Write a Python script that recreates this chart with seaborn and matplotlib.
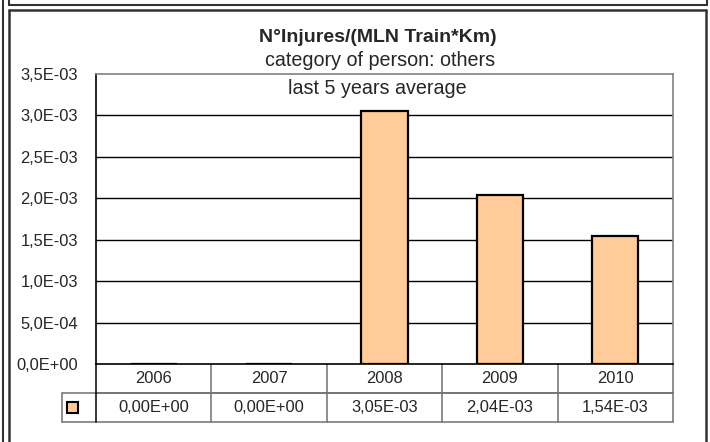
import matplotlib
matplotlib.use("Agg")
import matplotlib.pyplot as plt
import matplotlib.lines as mlines
import matplotlib.patches as mpatches
import seaborn as sns
import pandas as pd

# data
years = ["2006", "2007", "2008", "2009", "2010"]
injures = [0.0, 0.0, 3.05e-3, 2.04e-3, 1.54e-3]
value_labels = ["0,00E+00", "0,00E+00", "3,05E-03", "2,04E-03", "1,54E-03"]
y_ticks = [0.0, 5e-4, 1e-3, 1.5e-3, 2e-3, 2.5e-3, 3e-3, 3.5e-3]

title = "N°Injures/(MLN Train*Km)"
subtitle1 = "category of person: others"
subtitle2 = "last 5 years average"

sns.set_style("white")
plt.rcParams["font.family"] = ["Liberation Sans", "DejaVu Sans"]

W, H = 710, 442
fig = plt.figure(figsize=(W / 100, H / 100), dpi=100)

def fx(px):
    return px / W

def fy(py):
    return 1 - py / H

ax = fig.add_axes([fx(96), fy(364), fx(673) - fx(96), fy(74) - fy(364)])

df = pd.DataFrame({"year": years, "value": injures})
sns.barplot(data=df, x="year", y="value", color="#FFCC99", edgecolor="black",
            linewidth=1.6, width=0.4, saturation=1, ax=ax, zorder=3)

ax.set_xlim(-0.5, len(years) - 0.5)
ax.set_ylim(0, 3.5e-3)
ax.set_yticks(y_ticks)
ax.set_yticklabels([f"{v:.1E}".replace(".", ",") for v in y_ticks], fontsize=11.9)
ax.set_xticks([])
ax.set_xlabel("")
ax.set_ylabel("")
ax.tick_params(axis="y", direction="out", length=6, width=1, color="black", pad=7)

# gridlines
for v in y_ticks[1:-1]:
    ax.axhline(v, color="black", linewidth=1, zorder=1)

for side in ["top", "right"]:
    ax.spines[side].set_color("#808080")
    ax.spines[side].set_linewidth(1.2)
for side in ["left", "bottom"]:
    ax.spines[side].set_color("black")
    ax.spines[side].set_linewidth(1.2)

# data table under the plot
n = len(years)
tr = ax.transAxes
row_h = 29 / 290
leg_x = -(96 - 62.5) / 577
tcol = "#707070"
line_kw = dict(transform=tr, clip_on=False, linewidth=1.1)
# horizontal lines
ax.add_line(mlines.Line2D([0, 1], [-row_h, -row_h], color=tcol, **line_kw))
ax.add_line(mlines.Line2D([leg_x, 1], [-row_h, -row_h], color=tcol, **line_kw))
ax.add_line(mlines.Line2D([leg_x, 1], [-2 * row_h, -2 * row_h], color=tcol, **line_kw))
# vertical lines
ax.add_line(mlines.Line2D([0, 0], [0, -2 * row_h], color="black", **line_kw))
ax.add_line(mlines.Line2D([leg_x, leg_x], [-row_h, -2 * row_h], color=tcol, **line_kw))
for i in range(1, n + 1):
    x = i / n
    ax.add_line(mlines.Line2D([x, x], [0, -2 * row_h], color=tcol, **line_kw))
for i in range(n):
    xc = (i + 0.5) / n
    ax.text(xc, -0.5 * row_h, years[i], transform=tr, ha="center", va="center",
            fontsize=11.9)
    ax.text(xc, -1.5 * row_h, value_labels[i], transform=tr, ha="center",
            va="center", fontsize=11.9)
# legend key
sq_w = 11 / 577
sq_h = 11 / 290
ax.add_patch(mpatches.Rectangle((leg_x + (4.5 / 577), -1.5 * row_h - sq_h / 2), sq_w, sq_h,
                                transform=tr, clip_on=False, facecolor="#FFCC99",
                                edgecolor="black", linewidth=1.5))

# titles
fig.text(fx(378), fy(38), title, ha="center", va="center", fontsize=14,
         fontweight="bold")
fig.text(fx(380), fy(61), subtitle1, ha="center", va="center", fontsize=14.2)
fig.text(fx(377), fy(88), subtitle2, ha="center", va="center", fontsize=14.2)

# chart frame borders
fcol = "#333333"
fig.add_artist(mlines.Line2D([fx(2.5), fx(2.5)], [0, 1], color=fcol, linewidth=1.5))
fig.add_artist(mlines.Line2D([fx(8.5), fx(8.5)], [0, fy(9.5)], color=fcol, linewidth=1.8))
fig.add_artist(mlines.Line2D([fx(8.5), fx(705.5)], [fy(9.5), fy(9.5)], color=fcol, linewidth=1.8))
fig.add_artist(mlines.Line2D([fx(705.5), fx(705.5)], [0, fy(9.5)], color=fcol, linewidth=1.8))
fig.add_artist(mlines.Line2D([fx(8.5), fx(707)], [fy(5), fy(5)], color=fcol, linewidth=1.5))
fig.add_artist(mlines.Line2D([fx(707), fx(707)], [fy(5), 1], color=fcol, linewidth=1.5))
fig.add_artist(mlines.Line2D([fx(8.5), fx(8.5)], [fy(5), 1], color=fcol, linewidth=1.5))

fig.savefig("out.png", dpi=100)
